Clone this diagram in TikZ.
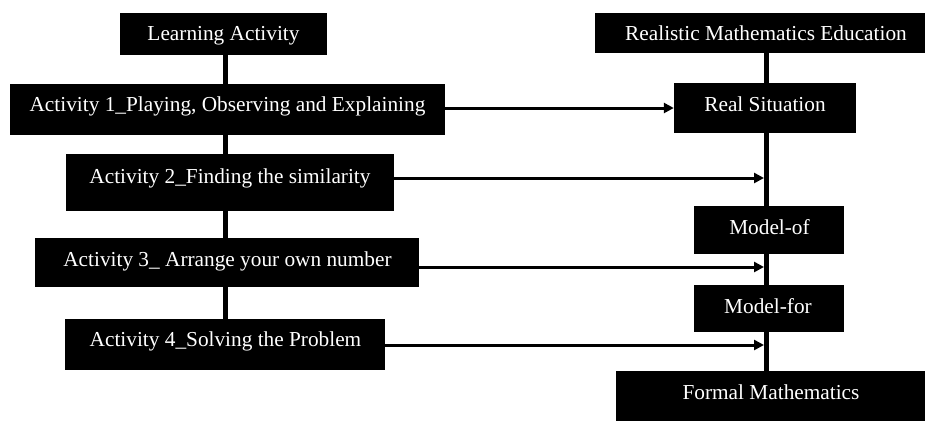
\documentclass[tikz,border=0pt]{standalone}
\usepackage{fontspec}
\setmainfont{Liberation Serif}
\usetikzlibrary{fit,arrows.meta}
\tikzset{
  blackbox/.style={fill=black, draw=none, inner sep=0pt},
  boxtext/.style={text=white, inner sep=0pt, anchor=base, font=\fontsize{21.3}{24}\selectfont},
  link/.style={line width=5pt},
  arr/.style={line width=3pt, -{Triangle[length=10pt,width=10pt]}}
}
\newcommand\mybox[8]{%
  \node[blackbox, fit={(#2,#3)(#4,#5)}] (#1) {};
  \node[boxtext] (#1t) at (#6,#7) {#8};}
\begin{document}
\begin{tikzpicture}[x=1pt,y=-1pt]
  \useasboundingbox (0,0) rectangle (925,421);
  % left column
  \mybox{la}{120}{13}{327}{55}{223.5}{40.5}{Learning Activity}
  \mybox{a1}{10}{84}{445}{135}{227.5}{111.5}{Activity 1\_Playing, Observing and Explaining}
  \mybox{a2}{66}{154}{394}{211}{230}{183}{Activity 2\_Finding the similarity}
  \mybox{a3}{35}{238}{419}{287}{227.5}{266.5}{Activity 3\_ Arrange your own number}
  \mybox{a4}{65}{319}{385}{370}{225.5}{346.5}{Activity 4\_Solving the Problem}
  % right column
  \mybox{rem}{595}{13}{925}{53}{766}{40}{Realistic Mathematics Education}
  \mybox{rs}{674}{83}{856}{133}{765}{111.5}{Real Situation}
  \mybox{mo}{694}{206}{844}{254}{769.5}{234}{Model-of}
  \mybox{mf}{694}{285}{844}{332}{768}{313}{Model-for}
  \mybox{fm}{616}{371}{925}{421}{771}{399}{Formal Mathematics}
  % spines
  \coordinate (lx) at (225,0);
  \coordinate (rx) at (766.5,0);
  \draw[link] (la.south -| lx) -- (a1.north -| lx);
  \draw[link] (a1.south -| lx) -- (a2.north -| lx);
  \draw[link] (a2.south -| lx) -- (a3.north -| lx);
  \draw[link] (a3.south -| lx) -- (a4.north -| lx);
  \draw[link] (rem.south -| rx) -- (rs.north -| rx);
  \draw[link] (rs.south -| rx) -- (mo.north -| rx);
  \draw[link] (mo.south -| rx) -- (mf.north -| rx);
  \draw[link] (mf.south -| rx) -- (fm.north -| rx);
  % arrows
  \coordinate (t2) at (764,178);
  \coordinate (t3) at (764,267);
  \coordinate (t4) at (764,345);
  \draw[arr] (a1.east |- rs.west) -- (rs.west);
  \draw[arr] (a2.east |- t2) -- (t2);
  \draw[arr] (a3.east |- t3) -- (t3);
  \draw[arr] (a4.east |- t4) -- (t4);
\end{tikzpicture}
\end{document}
